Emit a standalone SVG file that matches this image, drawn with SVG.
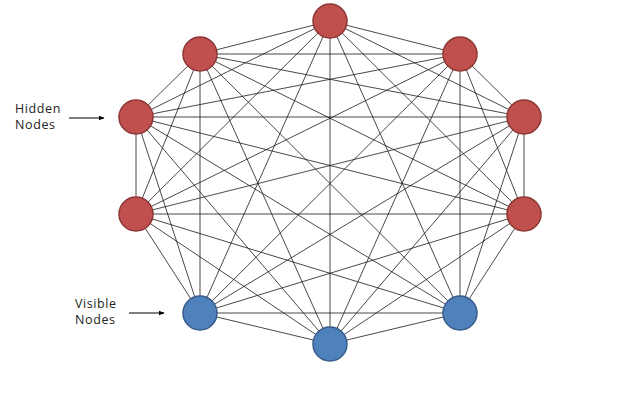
<svg xmlns="http://www.w3.org/2000/svg" width="644" height="404" viewBox="0 0 644 404">
<defs>
<style>
.e{stroke:#1a1a1a;stroke-width:0.8;fill:none}
.h{fill:#c0504d;stroke:#8c3836;stroke-width:1.5}
.v{fill:#4f81bd;stroke:#385d8a;stroke-width:1.5}
.t{font-family:"Open Sans",sans-serif;font-size:12.5px;letter-spacing:0.6px;fill:#222}
.a{stroke:#000;stroke-width:1.2}
</style>
<marker id="ah" viewBox="0 0 10 10" refX="9" refY="5" markerWidth="6" markerHeight="6" orient="auto" markerUnits="userSpaceOnUse"><path d="M0,1 L10,5 L0,9 z" fill="#000"/></marker>
</defs>
<rect width="644" height="404" fill="#fff"/>
<g id="connectors">
<line class="e" x1="330" y1="21" x2="200" y2="54"/>
<line class="e" x1="330" y1="21" x2="460" y2="54"/>
<line class="e" x1="330" y1="21" x2="136" y2="117"/>
<line class="e" x1="330" y1="21" x2="524" y2="117"/>
<line class="e" x1="330" y1="21" x2="136" y2="214"/>
<line class="e" x1="330" y1="21" x2="524" y2="214"/>
<line class="e" x1="330" y1="21" x2="200" y2="313"/>
<line class="e" x1="330" y1="21" x2="460" y2="313"/>
<line class="e" x1="330" y1="21" x2="330" y2="344"/>
<line class="e" x1="200" y1="54" x2="460" y2="54"/>
<line class="e" x1="200" y1="54" x2="136" y2="117"/>
<line class="e" x1="200" y1="54" x2="524" y2="117"/>
<line class="e" x1="200" y1="54" x2="136" y2="214"/>
<line class="e" x1="200" y1="54" x2="524" y2="214"/>
<line class="e" x1="200" y1="54" x2="200" y2="313"/>
<line class="e" x1="200" y1="54" x2="460" y2="313"/>
<line class="e" x1="200" y1="54" x2="330" y2="344"/>
<line class="e" x1="460" y1="54" x2="136" y2="117"/>
<line class="e" x1="460" y1="54" x2="524" y2="117"/>
<line class="e" x1="460" y1="54" x2="136" y2="214"/>
<line class="e" x1="460" y1="54" x2="524" y2="214"/>
<line class="e" x1="460" y1="54" x2="200" y2="313"/>
<line class="e" x1="460" y1="54" x2="460" y2="313"/>
<line class="e" x1="460" y1="54" x2="330" y2="344"/>
<line class="e" x1="136" y1="117" x2="524" y2="117"/>
<line class="e" x1="136" y1="117" x2="136" y2="214"/>
<line class="e" x1="136" y1="117" x2="524" y2="214"/>
<line class="e" x1="136" y1="117" x2="200" y2="313"/>
<line class="e" x1="136" y1="117" x2="460" y2="313"/>
<line class="e" x1="136" y1="117" x2="330" y2="344"/>
<line class="e" x1="524" y1="117" x2="136" y2="214"/>
<line class="e" x1="524" y1="117" x2="524" y2="214"/>
<line class="e" x1="524" y1="117" x2="200" y2="313"/>
<line class="e" x1="524" y1="117" x2="460" y2="313"/>
<line class="e" x1="524" y1="117" x2="330" y2="344"/>
<line class="e" x1="136" y1="214" x2="524" y2="214"/>
<line class="e" x1="136" y1="214" x2="200" y2="313"/>
<line class="e" x1="136" y1="214" x2="460" y2="313"/>
<line class="e" x1="136" y1="214" x2="330" y2="344"/>
<line class="e" x1="524" y1="214" x2="200" y2="313"/>
<line class="e" x1="524" y1="214" x2="460" y2="313"/>
<line class="e" x1="524" y1="214" x2="330" y2="344"/>
<line class="e" x1="200" y1="313" x2="460" y2="313"/>
<line class="e" x1="200" y1="313" x2="330" y2="344"/>
<line class="e" x1="460" y1="313" x2="330" y2="344"/>
<line class="a" x1="69" y1="118" x2="104" y2="118" marker-end="url(#ah)"/>
<line class="a" x1="129" y1="313" x2="164" y2="313" marker-end="url(#ah)"/>
</g>
<g id="n1"><circle class="h" cx="330" cy="21" r="17"/></g>
<g id="n2"><circle class="h" cx="200" cy="54" r="17"/></g>
<g id="n3"><circle class="h" cx="460" cy="54" r="17"/></g>
<g id="n4"><circle class="h" cx="136" cy="117" r="17"/></g>
<g id="n5"><circle class="h" cx="524" cy="117" r="17"/></g>
<g id="n6"><circle class="h" cx="136" cy="214" r="17"/></g>
<g id="n7"><circle class="h" cx="524" cy="214" r="17"/></g>
<g id="n8"><circle class="v" cx="200" cy="313" r="17"/></g>
<g id="n9"><circle class="v" cx="460" cy="313" r="17"/></g>
<g id="n10"><circle class="v" cx="330" cy="344" r="17"/></g>
<g id="label-hidden"><text class="t" x="15" y="113">Hidden</text><text class="t" x="15" y="128.5">Nodes</text></g>
<g id="label-visible"><text class="t" x="75" y="308">Visible</text><text class="t" x="75" y="324">Nodes</text></g>
</svg>
